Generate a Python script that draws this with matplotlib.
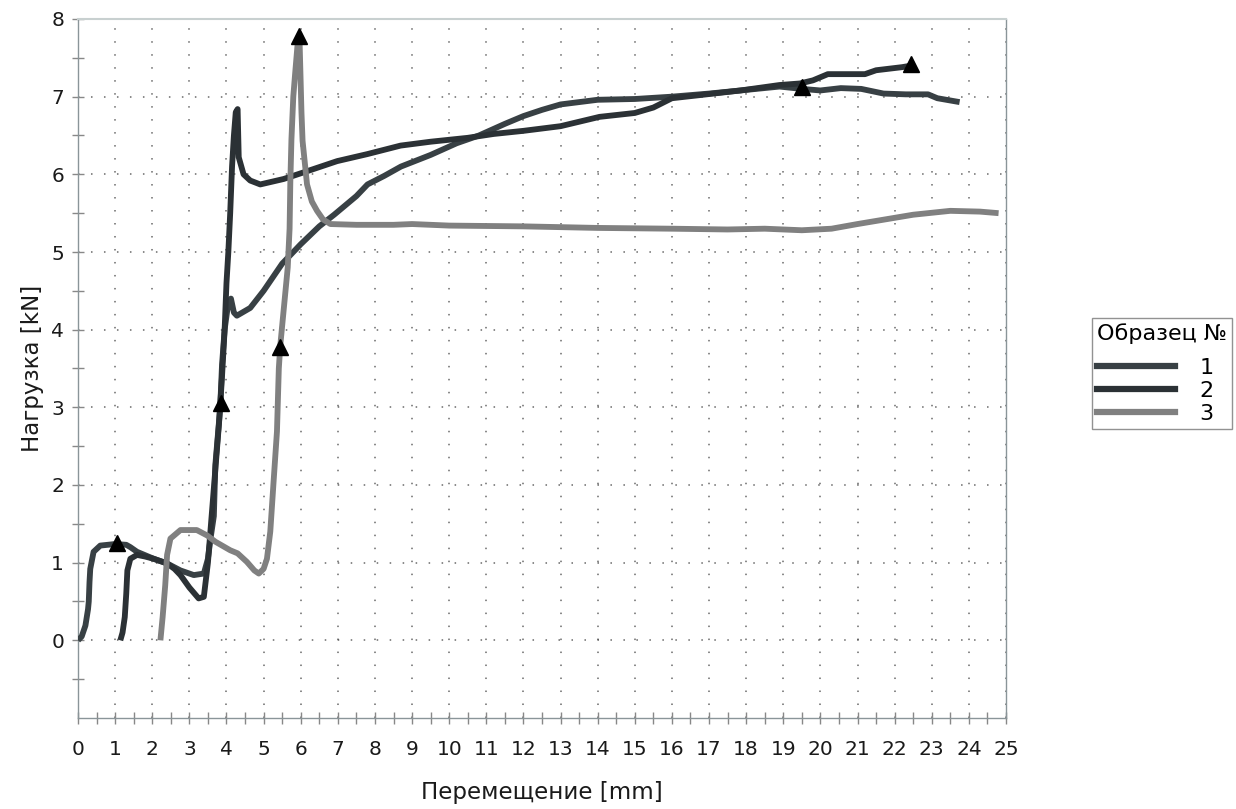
import matplotlib
matplotlib.use("Agg")
import matplotlib.pyplot as plt
from matplotlib.ticker import MultipleLocator
from matplotlib.lines import Line2D

plt.rcParams['font.family'] = ['DejaVu Sans']

# ---- data -------------------------------------------------------------
s1_x = [0.0, 0.1, 0.2, 0.27, 0.29, 0.31, 0.33, 0.42, 0.6, 1.0, 1.3, 1.41, 1.59, 2.04,
        2.4, 2.76, 3.12, 3.39, 3.5, 3.57, 3.66, 3.7, 3.83, 3.88, 3.95, 4.05, 4.12, 4.2,
        4.28, 4.64, 5.0, 5.5, 6.0, 6.5, 6.9, 7.5, 7.8, 8.25, 8.7, 9.5, 10.2, 10.8, 11.5,
        12.0, 12.5, 13.0, 14.0, 15.0, 16.0, 17.0, 17.85, 18.9, 19.5, 20.0, 20.55, 21.1,
        21.7, 22.3, 22.9, 23.15, 23.75]
s1_y = [0.0, 0.05, 0.19, 0.4, 0.5, 0.75, 0.92, 1.14, 1.22, 1.24, 1.23, 1.2, 1.14, 1.05,
        0.99, 0.9, 0.84, 0.86, 1.05, 1.31, 1.6, 2.26, 2.99, 3.55, 4.0, 4.35, 4.4, 4.22,
        4.18, 4.28, 4.5, 4.85, 5.1, 5.33, 5.48, 5.72, 5.87, 5.98, 6.1, 6.25, 6.4, 6.5, 6.65,
        6.75, 6.83, 6.9, 6.96, 6.97, 7.0, 7.04, 7.08, 7.13, 7.1, 7.08, 7.11, 7.1,
        7.04, 7.03, 7.03, 6.98, 6.93]

s2_x = [1.14, 1.2, 1.26, 1.3, 1.33, 1.41, 1.59, 1.8, 2.04, 2.4, 2.6, 2.76, 3.0, 3.25,
        3.39, 3.5, 3.6, 3.7, 3.8, 3.88, 3.95, 4.0, 4.05, 4.1, 4.15, 4.2, 4.25, 4.3, 4.33,
        4.46, 4.64, 4.91, 5.54, 6.17, 6.98, 7.79, 8.69, 9.5, 10.5, 11.2, 12.0, 13.0,
        14.05, 15.0, 15.5, 16.0, 16.75, 17.85, 18.9, 19.45, 19.8, 20.2, 21.2, 21.5,
        22.2, 22.45]
s2_y = [0.0, 0.1, 0.3, 0.6, 0.9, 1.05, 1.1, 1.08, 1.05, 0.99, 0.92, 0.84, 0.68, 0.54,
        0.56, 1.0, 1.6, 2.2, 2.8, 3.4, 4.0, 4.6, 5.0, 5.5, 6.1, 6.5, 6.8, 6.84, 6.22,
        6.0, 5.92, 5.87, 5.94, 6.04, 6.17, 6.26, 6.37, 6.42, 6.47, 6.52, 6.56, 6.62,
        6.74, 6.79, 6.86, 6.98, 7.02, 7.08, 7.15, 7.17, 7.21, 7.29, 7.29, 7.34,
        7.38, 7.4]

s3_x = [2.22, 2.28, 2.35, 2.4, 2.49, 2.76, 3.2, 3.48, 3.7, 4.1, 4.3, 4.55, 4.75, 4.87,
        5.0, 5.09, 5.18, 5.27, 5.36, 5.41, 5.45, 5.55, 5.65, 5.7, 5.72, 5.75, 5.8, 5.85,
        5.92, 5.97, 6.02, 6.05, 6.17, 6.3, 6.44, 6.6, 6.8, 7.5, 8.5, 9.0, 10.0, 12.0,
        14.0, 16.0, 17.5, 18.5, 19.5, 20.3, 21.0, 21.5, 22.5, 23.5, 24.3, 24.8]
s3_y = [0.0, 0.3, 0.71, 1.1, 1.31, 1.42, 1.42, 1.35, 1.27, 1.16, 1.12, 1.01, 0.9, 0.86,
        0.92, 1.05, 1.4, 2.05, 2.69, 3.5, 3.8, 4.3, 4.8, 5.3, 5.9, 6.45, 7.0, 7.3,
        7.7, 7.7, 6.8, 6.43, 5.87, 5.65, 5.53, 5.42, 5.36, 5.35, 5.35, 5.36, 5.34, 5.33,
        5.31, 5.3, 5.29, 5.3, 5.28, 5.3, 5.36, 5.4, 5.48, 5.53, 5.52, 5.5]

# marked points (triangles) for each specimen
m1_x = [1.05, 19.5]
m1_y = [1.25, 7.12]
m2_x = [3.85, 22.45]
m2_y = [3.05, 7.42]
m3_x = [5.45, 5.95]
m3_y = [3.78, 7.78]

labels = ['1', '2', '3']
colors = ['#384044', '#2b3135', '#808080']

# ---- figure -----------------------------------------------------------
fig = plt.figure(figsize=(12.36, 8.09), dpi=100)
ax = fig.add_axes([78 / 1236, 1 - 718 / 809, (1006 - 78) / 1236, (718 - 19) / 809])

series = [(s1_x, s1_y), (s2_x, s2_y), (s3_x, s3_y)]
for (xs, ys), c, lab in zip(series, colors, labels):
    ax.plot(xs, ys, color=c, lw=4.2, solid_capstyle='butt', solid_joinstyle='round',
            label=lab, zorder=3)

for mx, my in [(m1_x, m1_y), (m2_x, m2_y), (m3_x, m3_y)]:
    ax.plot(mx, my, linestyle='none', marker='^', markersize=11, color='black', zorder=5)

ax.set_xlim(0, 25)
ax.set_ylim(-1, 8)
ax.xaxis.set_major_locator(MultipleLocator(1))
ax.xaxis.set_minor_locator(MultipleLocator(0.5))
ax.set_yticks(range(0, 9))
ax.set_yticks([-0.5 + i for i in range(0, 9)], minor=True)

ax.grid(True, which='major', color='#444444', linestyle=(0, (1, 7.5)), lw=1.1, alpha=0.8)

ax.tick_params(axis='both', which='both', direction='inout', length=8, width=1,
               color='#888888', labelsize=14.5, labelcolor='#1a1a1a')
ax.tick_params(axis='x', which='major', pad=12)
ax.tick_params(axis='y', which='major', pad=6)

for side in ['left', 'bottom', 'right']:
    ax.spines[side].set_color('#8a9599')
    ax.spines[side].set_linewidth(1.0)
ax.spines['top'].set_color('#c8d0d0')
ax.spines['top'].set_linewidth(1.5)

ax.set_xlabel('Перемещение [mm]', fontsize=16.5, color='#1a1a1a', labelpad=16)
ax.set_ylabel('Нагрузка [kN]', fontsize=16.5, color='#1a1a1a', labelpad=5)

handles = [Line2D([0], [0], color=c, lw=4.5) for c in colors]
leg = fig.legend(handles, labels, title='Образец №', loc='upper left',
                 bbox_to_anchor=(1092 / 1236, 1 - 318 / 809), borderaxespad=0,
                 frameon=True, fancybox=False, fontsize=16, title_fontsize=16,
                 handlelength=3.5, handletextpad=1.1, labelspacing=0.15,
                 borderpad=0.22, alignment='left')
leg._legend_box.sep = 10
leg.get_frame().set_edgecolor('#777777')
leg.get_frame().set_linewidth(1.0)

fig.savefig('out.png', dpi=100)
